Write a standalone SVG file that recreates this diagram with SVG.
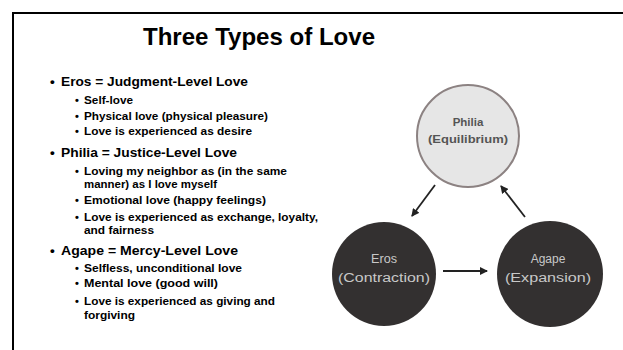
<svg xmlns="http://www.w3.org/2000/svg" width="623" height="350" viewBox="0 0 623 350">
<defs>
<style>
.t{font-family:"Liberation Sans",Arial,sans-serif;font-weight:bold;fill:#000}
.h{font-size:13.5px}
.s{font-size:11px}
.dk{fill:#333030}
.lt{font-family:"Liberation Sans",Arial,sans-serif;font-size:12px;fill:#c8c8c8;text-anchor:middle}
.ph{font-family:"Liberation Sans",Arial,sans-serif;font-size:11.5px;font-weight:bold;fill:#555;text-anchor:middle}
.con{stroke:#222;stroke-width:1.8;fill:none;marker-end:url(#ah)}
</style>
<marker id="ah" markerWidth="8" markerHeight="8" refX="7" refY="4" orient="auto" markerUnits="userSpaceOnUse">
<path d="M0,0 L8,4 L0,8 z" fill="#222"/>
</marker>
</defs>
<rect width="623" height="350" fill="#fff"/>
<path d="M13,352 V13 H625" fill="none" stroke="#000" stroke-width="2"/>
<text x="259" y="45" text-anchor="middle" font-family="Liberation Sans,Arial,sans-serif" font-size="24" font-weight="bold" textLength="232" lengthAdjust="spacingAndGlyphs">Three Types of Love</text>

<g id="text-list">
<text class="t h" x="50" y="86">•</text><text class="t h" x="61" y="86" textLength="187" lengthAdjust="spacingAndGlyphs">Eros = Judgment-Level Love</text>
<text class="t s" x="75" y="104">•</text><text class="t s" x="84" y="104" textLength="49" lengthAdjust="spacingAndGlyphs">Self-love</text>
<text class="t s" x="75" y="120">•</text><text class="t s" x="84" y="120" textLength="184" lengthAdjust="spacingAndGlyphs">Physical love (physical pleasure)</text>
<text class="t s" x="75" y="135">•</text><text class="t s" x="84" y="135" textLength="168" lengthAdjust="spacingAndGlyphs">Love is experienced as desire</text>
<text class="t h" x="50" y="157">•</text><text class="t h" x="61" y="157" textLength="176" lengthAdjust="spacingAndGlyphs">Philia = Justice-Level Love</text>
<text class="t s" x="75" y="175">•</text><text class="t s" x="84" y="175" textLength="203" lengthAdjust="spacingAndGlyphs">Loving my neighbor as (in the same</text>
<text class="t s" x="84" y="188" textLength="133" lengthAdjust="spacingAndGlyphs">manner) as I love myself</text>
<text class="t s" x="75" y="204">•</text><text class="t s" x="84" y="204" textLength="182" lengthAdjust="spacingAndGlyphs">Emotional love (happy feelings)</text>
<text class="t s" x="75" y="221">•</text><text class="t s" x="84" y="221" textLength="234" lengthAdjust="spacingAndGlyphs">Love is experienced as exchange, loyalty,</text>
<text class="t s" x="84" y="234" textLength="70" lengthAdjust="spacingAndGlyphs">and fairness</text>
<text class="t h" x="50" y="255">•</text><text class="t h" x="61" y="255" textLength="177" lengthAdjust="spacingAndGlyphs">Agape = Mercy-Level Love</text>
<text class="t s" x="75" y="272">•</text><text class="t s" x="84" y="272" textLength="158" lengthAdjust="spacingAndGlyphs">Selfless, unconditional love</text>
<text class="t s" x="75" y="287">•</text><text class="t s" x="84" y="287" textLength="134" lengthAdjust="spacingAndGlyphs">Mental love (good will)</text>
<text class="t s" x="75" y="305">•</text><text class="t s" x="84" y="305" textLength="191" lengthAdjust="spacingAndGlyphs">Love is experienced as giving and</text>
<text class="t s" x="84" y="319" textLength="51" lengthAdjust="spacingAndGlyphs">forgiving</text>
</g>

<g id="connectors">
<line class="con" x1="435" y1="185" x2="412" y2="216"/>
<line class="con" x1="443" y1="271" x2="487" y2="271"/>
<line class="con" x1="525" y1="217" x2="501" y2="186"/>
</g>

<g id="node-philia">
<circle cx="468" cy="136" r="51" fill="#e6e6e6" stroke="#8c8282" stroke-width="2"/>
<text class="ph" x="468" y="126">Philia</text>
<text class="ph" x="468" y="143" textLength="80" lengthAdjust="spacingAndGlyphs">(Equilibrium)</text>
</g>
<g id="node-eros">
<circle class="dk" cx="384" cy="274" r="52"/>
<text class="lt" x="384" y="263" textLength="26" lengthAdjust="spacingAndGlyphs">Eros</text>
<text class="lt" x="384" y="282" textLength="92" lengthAdjust="spacingAndGlyphs">(Contraction)</text>
</g>
<g id="node-agape">
<circle class="dk" cx="550" cy="274" r="53"/>
<text class="lt" x="548" y="263">Agape</text>
<text class="lt" x="548" y="282" textLength="86" lengthAdjust="spacingAndGlyphs">(Expansion)</text>
</g>
</svg>
